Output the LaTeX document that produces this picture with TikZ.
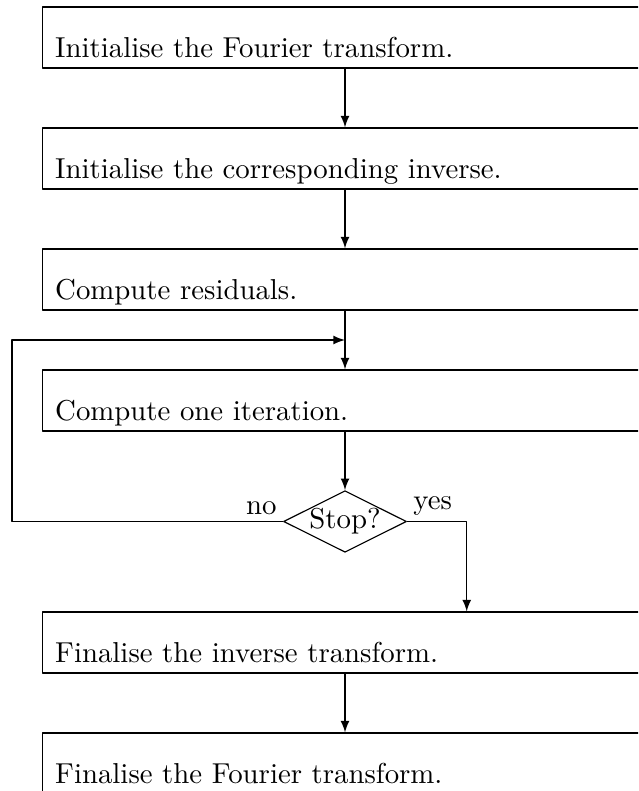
\documentclass[tikz,border=0pt]{standalone}
\usetikzlibrary{shapes.geometric}
\tikzset{
	stage/.style={draw, rectangle, inner xsep=4.5pt, inner ysep=0pt, text width=7.07cm, align=left, text height=0.616cm, text depth=0.128cm},
	test/.style={draw, diamond, aspect=2, inner sep=0pt},
	answer/.style={inner sep=2pt}
}
\begin{document}
\begin{tikzpicture}[line join=round, >=latex]
			\clip (-4.209,-9.65) rectangle (3.575,0);
			\node[stage] (initft) at (0,-0.458) {Initialise the Fourier transform.};
			\node[stage] (initinv) at (0,-1.934) {Initialise the corresponding inverse.};
			\node[stage] (resid) at (0,-3.410) {Compute residuals.};
			\node[stage] (iter) at (0,-4.886) {Compute one iteration.};
			\node[test] (stop) at (0,-6.362) {Stop?};
			\node[stage] (fininv) at (0,-7.839) {Finalise the inverse transform.};
			\node[stage] (finft) at (0,-9.315) {Finalise the Fourier transform.};
			\coordinate (loopin) at (0,-4.148);
			\coordinate (loopout) at (-4.063,-6.362);
			\coordinate (yesturn) at (1.485,-6.362);
			\draw[->] (initft) -- (initinv);
			\draw[->] (initinv) -- (resid);
			\draw[->] (resid) -- (iter);
			\draw[->] (iter) -- (stop);
			\draw[->] (stop.west) node[answer, above left] {no} -- (loopout) |- (loopin);
			\draw[->] (stop.east) node[answer, above right] {yes} -- (yesturn) -- (yesturn |- fininv.north);
			\draw[->] (fininv) -- (finft);
		\end{tikzpicture}
\end{document}
